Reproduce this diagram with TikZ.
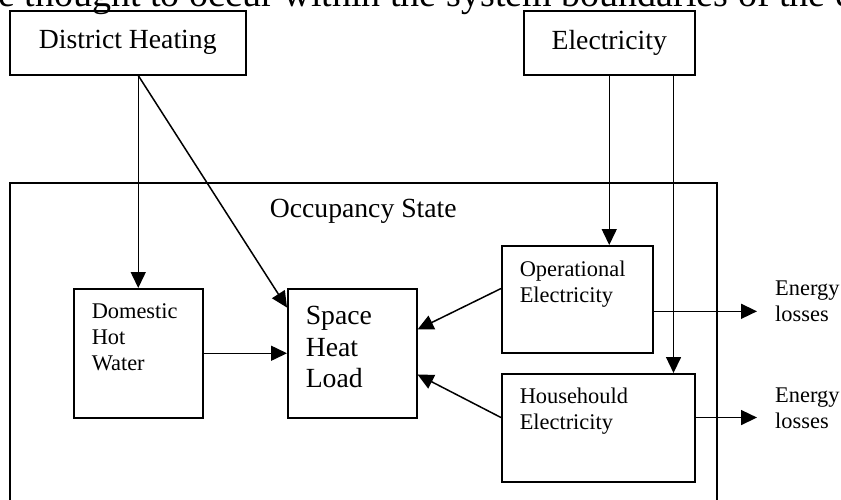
\documentclass[tikz,border=0pt]{standalone}
\usepackage{fontspec}
\setmainfont{Liberation Serif}
\usetikzlibrary{arrows.meta}

% text set at the top left of a box: width, height, first baseline, text
\newcommand{\boxtext}[4]{\parbox[c][#2][t]{#1}{\raggedright\leftskip=18pt\rule{0pt}{#3}#4}}

\begin{document}
\begin{tikzpicture}[x=1pt,y=-1pt,
    box/.style={draw,line width=1.5pt,inner sep=0pt,anchor=north west},
    arr/.style={line width=1.5pt,-{Triangle[length=16pt,width=15pt]}},
    big/.style={font=\fontsize{27.7}{31.5}\selectfont},
    small/.style={font=\fontsize{22.4}{26}\selectfont}]
    \useasboundingbox (0,0) rectangle (841,499);
    \clip (0,0) rectangle (841,499);

    \node[anchor=base west,inner sep=0pt,font=\fontsize{38}{42}\selectfont] (para) at (-2,6)
        {\makebox[854pt][s]{e thought to occur within the system boundaries of the e}};

    \node[box,big,minimum width=236pt,minimum height=64pt] (dh) at (9,10) {District Heating};
    \node[box,big,minimum width=171pt,minimum height=64pt] (el) at (523,10) {Electricity};

    \node[box,big] (occ) at (9,182)
        {\parbox[c][400pt][t]{707pt}{\centering\rule{0pt}{35pt}Occupancy State}};

    \node[box,small] (dhw) at (73,288) {\boxtext{129pt}{129pt}{30pt}{Domestic\\Hot\\Water}};
    \node[box,big] (shl) at (287,288) {\boxtext{129pt}{129pt}{36pt}{Space\\Heat\\Load}};
    \node[box,small] (op) at (501,245) {\boxtext{151pt}{107pt}{31pt}{Operational\\Electricity}};
    \node[box,small] (hh) at (501,373) {\boxtext{193pt}{108pt}{30pt}{Househould\\Electricity}};

    \node[anchor=north west,inner sep=0pt,align=left,small] (loss1) at (775,281) {Energy\\losses};
    \node[anchor=north west,inner sep=0pt,align=left,small] (loss2) at (775,388) {Energy\\losses};
    \coordinate (e1) at (757,310);
    \coordinate (e2) at (757,417);

    \draw[arr] (dhw.north |- dh.south) -- (dhw.north);
    \draw[arr] (dhw.north |- dh.south) -- (shl.145);
    \draw[arr] (dhw.east) -- (shl.west);
    \draw[arr] (op.172) -- (shl.20);
    \draw[arr] (hh.174) -- (shl.-18);
    \draw[arr] (el.south) -- (el.south |- op.north);
    \draw[arr] (el.-27) -- (el.-27 |- hh.north);
    \draw[arr] (op.-9) -- (op.-9 -| e1);
    \draw[arr] (hh.6) -- (hh.6 -| e2);
\end{tikzpicture}
\end{document}
